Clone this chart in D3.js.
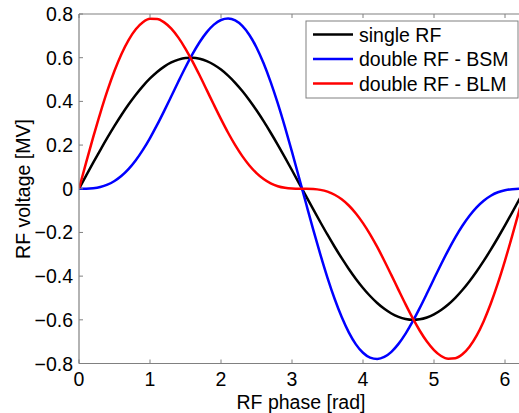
<!DOCTYPE html>
<html><head><meta charset="utf-8">
<script src="https://cdn.jsdelivr.net/npm/d3@7"></script>
<style>
body{margin:0;background:#fff;}
text{font-family:"Liberation Sans",Arial,sans-serif;}
</style></head>
<body><svg id="c" width="519" height="413"></svg>
<script>
const phase = [0,0.1,0.2,0.3,0.4,0.5,0.6,0.7,0.8,0.9,1.0,1.1,1.2,1.3,1.4,1.5,1.6,1.7,1.8,1.9,2.0,2.1,2.2,2.3,2.4,2.5,2.6,2.7,2.8,2.9,3.0,3.1,3.2,3.3,3.4,3.5,3.6,3.7,3.8,3.9,4.0,4.1,4.2,4.3,4.4,4.5,4.6,4.7,4.8,4.9,5.0,5.1,5.2,5.3,5.4,5.5,5.6,5.7,5.8,5.9,6.0,6.1,6.2,6.2832];
const singleRF = [0,0.0599,0.1192,0.1773,0.2337,0.2877,0.3388,0.3865,0.4304,0.4700,0.5049,0.5347,0.5592,0.5781,0.5913,0.5985,0.5997,0.5950,0.5843,0.5678,0.5456,0.5179,0.4851,0.4474,0.4053,0.3591,0.3093,0.2564,0.2010,0.1436,0.0847,0.0249,-0.0350,-0.0947,-0.1533,-0.2105,-0.2655,-0.3179,-0.3671,-0.4127,-0.4541,-0.4910,-0.5229,-0.5497,-0.5710,-0.5865,-0.5962,-0.6000,-0.5977,-0.5895,-0.5754,-0.5555,-0.5301,-0.4994,-0.4637,-0.4233,-0.3788,-0.3304,-0.2788,-0.2243,-0.1677,-0.1093,-0.0499,0];
const doubleBSM = [0,0.0003,0.0024,0.0079,0.0185,0.0353,0.0592,0.0909,0.1305,0.1778,0.2321,0.2921,0.3566,0.4234,0.4908,0.5562,0.6172,0.6717,0.7171,0.7514,0.7726,0.7794,0.7706,0.7455,0.7041,0.6468,0.5743,0.4882,0.3904,0.2830,0.1685,0.0498,-0.0700,-0.1882,-0.3015,-0.4076,-0.5036,-0.5875,-0.6575,-0.7123,-0.7509,-0.7732,-0.7793,-0.7700,-0.7465,-0.7101,-0.6631,-0.6074,-0.5454,-0.4796,-0.4122,-0.3455,-0.2818,-0.2226,-0.1694,-0.1233,-0.0850,-0.0546,-0.0320,-0.0162,-0.0067,-0.0018,-0.0002,0];
const doubleBLM = [0,0.1195,0.2360,0.3467,0.4489,0.5401,0.6184,0.6821,0.7303,0.7622,0.7777,0.7773,0.7618,0.7328,0.6918,0.6408,0.5822,0.5183,0.4515,0.3842,0.3186,0.2564,0.1996,0.1493,0.1065,0.0714,0.0443,0.0246,0.0116,0.0042,0.0009,0.0000,0.0000,-0.0012,-0.0051,-0.0134,-0.0274,-0.0483,-0.0767,-0.1131,-0.1573,-0.2088,-0.2665,-0.3294,-0.3955,-0.4629,-0.5293,-0.5926,-0.6500,-0.6994,-0.7386,-0.7655,-0.7784,-0.7762,-0.7580,-0.7233,-0.6726,-0.6062,-0.5256,-0.4324,-0.3287,-0.2168,-0.0996,0];
const seriesNames = ["single RF","double RF - BSM","double RF - BLM"];
const seriesColors = ["#000000","#0000ff","#ff0000"];
const xTicks = [0,1,2,3,4,5,6];
const yTicks = [-0.8,-0.6,-0.4,-0.2,0,0.2,0.4,0.6,0.8];

const svg = d3.select("#c");
const L = 79, T = 14, B = 363.5;
const x = d3.scaleLinear().domain([0, 2*Math.PI]).range([L, L + 2*Math.PI*71]);
const y = d3.scaleLinear().domain([-0.8, 0.8]).range([B, T]);
const grey = "#808080";
const fs = 19.5;

const series = [singleRF, doubleBSM, doubleBLM];
const line = d3.line().x((d,i)=>x(phase[i])).y(d=>y(d)).curve(d3.curveMonotoneX);
svg.append("defs").append("clipPath").attr("id","clip").append("rect")
  .attr("x",L).attr("y",T-2).attr("width",x(2*Math.PI)-L).attr("height",B-T+4);
const g = svg.append("g").attr("clip-path","url(#clip)");
series.forEach((s,k)=>{
  g.append("path").datum(s).attr("d",line).attr("fill","none")
   .attr("stroke",seriesColors[k]).attr("stroke-width",2.5);
});

// axes
const ax = svg.append("g");
ax.append("line").attr("x1",L).attr("x2",519).attr("y1",B).attr("y2",B).attr("stroke",grey).attr("stroke-width",1.2);
ax.append("line").attr("x1",L).attr("x2",519).attr("y1",T).attr("y2",T).attr("stroke",grey).attr("stroke-width",1.2);
ax.append("line").attr("x1",L).attr("x2",L).attr("y1",T).attr("y2",B).attr("stroke",grey).attr("stroke-width",1.2);
xTicks.forEach(t=>{
  ax.append("line").attr("x1",x(t)).attr("x2",x(t)).attr("y1",B).attr("y2",B-4).attr("stroke",grey);
  ax.append("line").attr("x1",x(t)).attr("x2",x(t)).attr("y1",T).attr("y2",T+4).attr("stroke",grey);
  ax.append("text").attr("x",x(t)).attr("y",386.3).attr("text-anchor","middle").attr("font-size",fs).text(d3.format("d")(t));
});
yTicks.forEach(t=>{
  ax.append("line").attr("x1",L).attr("x2",L+4).attr("y1",y(t)).attr("y2",y(t)).attr("stroke",grey);
  ax.append("text").attr("x",L-6).attr("y",y(t)).attr("dy","0.36em").attr("text-anchor","end").attr("font-size",fs)
    .text(t===0?"0":d3.format(".1f")(t));
});
svg.append("text").attr("x",301).attr("y",408.6).attr("text-anchor","middle").attr("font-size",fs).text("RF phase [rad]");
svg.append("text").attr("transform","translate(30,189) rotate(-90)").attr("text-anchor","middle").attr("font-size",fs).text("RF voltage [MV]");

// legend
const lg = svg.append("g");
lg.append("rect").attr("x",306).attr("y",21).attr("width",212).attr("height",77).attr("fill","#fff").attr("stroke",grey).attr("stroke-width",1);
seriesNames.forEach((n,k)=>{
  const yy = 34.5 + k*24.5;
  lg.append("line").attr("x1",313).attr("x2",353).attr("y1",yy).attr("y2",yy).attr("stroke",seriesColors[k]).attr("stroke-width",2.5);
  lg.append("text").attr("x",359).attr("y",yy).attr("dy","0.36em").attr("font-size",fs).text(n);
});
</script></body></html>
